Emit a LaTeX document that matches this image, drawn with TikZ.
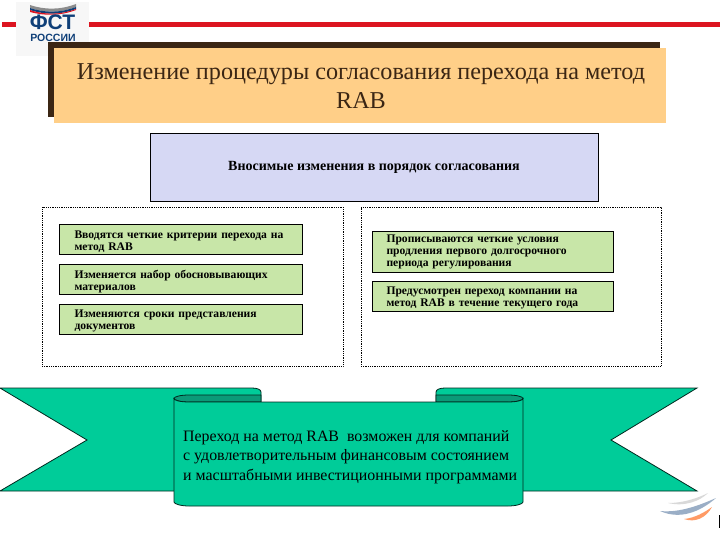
\documentclass[tikz,border=0pt]{standalone}
\usepackage{fontspec}
\setmainfont{Liberation Serif}
\newfontfamily\logofont{Liberation Sans}
\usepackage{xcolor}
\usetikzlibrary{positioning}
\definecolor{titlefill}{HTML}{FFCF88}
\definecolor{titledark}{HTML}{3B2614}
\definecolor{lilacfill}{HTML}{D6D8F4}
\definecolor{greenfill}{HTML}{C8E6A8}
\definecolor{ribbonfill}{HTML}{00CC99}
\definecolor{ribbonfold}{HTML}{0B9A78}
\definecolor{ribbonline}{HTML}{00281E}
\definecolor{flagblue}{HTML}{0F3F78}
\definecolor{flagred}{HTML}{DC1420}

\begin{document}
\begin{tikzpicture}[
  x=1pt, y=-1pt,
  greenbox/.style={draw=black, fill=greenfill, line width=0.8pt, outer sep=0pt, minimum width=243pt, inner sep=0pt,
    text width=212pt, align=left, font=\fontsize{11.6}{12}\selectfont\bfseries},
  lowtext/.style={execute at begin node={\rule{0pt}{12.5pt}}},
  framebox/.style={draw=black, densely dotted, line width=0.8pt},
  ribbon/.style={draw=ribbonline, fill=ribbonfill, line width=0.8pt},
  fold/.style={draw=ribbonline, fill=ribbonfold, line width=0.8pt},
]
\useasboundingbox (0,0) rectangle (720,540);

% header line and logo
\fill[flagred] (2,22) rectangle (720,27);
\fill[black!3] (16,2) rectangle (89,56);
\fill[black!45] (30,5) .. controls (45,10) and (60,10) .. (76,4) -- (76,7) .. controls (60,13) and (45,13) .. (30,8) -- cycle;
\fill[flagblue] (30,8) .. controls (45,13) and (60,13) .. (76,7) -- (76,9) .. controls (60,15) and (45,15) .. (30,10) -- cycle;
\fill[flagred] (30,10) .. controls (45,15) and (60,15) .. (76,9) -- (76,10) .. controls (60,16) and (45,16) .. (30,12) -- cycle;
\node[font=\logofont\fontsize{21}{21}\selectfont\bfseries, text=flagblue, inner sep=0pt] (logotop) at (52.5,22.5) {ФСТ};
\node[font=\logofont\fontsize{10.5}{11}\selectfont\bfseries, text=flagblue, inner sep=0pt] (logobot) at (53,38) {РОССИИ};

% title
\fill[titledark] (48,42) rectangle (660,117);
\fill[titlefill] (54,48) rectangle (666,123);
\node[inner sep=0pt, align=center, text=titledark,
  font=\fontsize{24.2}{29}\selectfont] (title) at (361,86.5) {Изменение процедуры согласования перехода на метод\\RAB};

\node[draw=black, fill=lilacfill, line width=0.8pt, minimum width=448pt, minimum height=68pt, outer sep=0pt,
  font=\fontsize{14}{16}\selectfont\bfseries] (changes) at (374,167) {\raisebox{-1.5pt}{Вносимые изменения в порядок согласования}};

% dotted frames
\node[framebox, minimum width=301pt, minimum height=159pt, outer sep=0pt] (leftframe) at (192.5,286.5) {};
\node[framebox, minimum width=300pt, minimum height=159pt, outer sep=0pt] (rightframe) at (511,286.5) {};

\node[greenbox, lowtext, minimum height=30pt] (crit) at (180.5,239) {Вводятся четкие критерии перехода на\\метод RAB};
\node[greenbox, lowtext, minimum height=30pt, below=10pt of crit] (mater) {Изменяется набор обосновывающих\\материалов};
\node[greenbox, lowtext, minimum height=30pt, below=10pt of mater] (terms) {Изменяются сроки представления\\документов};

\node[greenbox, minimum height=41pt, minimum width=241pt] (cond) at (492.5,251.5) {Прописываются четкие условия\\продления первого долгосрочного\\периода регулирования};
\node[greenbox, lowtext, minimum height=30pt, minimum width=241pt, below=9pt of cond] (year) {Предусмотрен переход компании на\\метод RAB в течение текущего года};

% ribbon
\draw[ribbon] (0,388) -- (252,388) .. controls (257,388) and (261,389.5) .. (261,392) -- (261,491) -- (0,491) -- (87,440) -- cycle;
\draw[ribbon] (697,388) -- (445,388) .. controls (440,388) and (436,389.5) .. (436,392) -- (436,491) -- (697,491) -- (611,440) -- cycle;
\draw[fold] (174,398.5) .. controls (174,396.5) and (181,395) .. (189,395) -- (261,395) -- (261,402) -- (189,402) .. controls (181,402) and (174,400.5) .. (174,398.5) -- cycle;
\draw[fold] (523,398.5) .. controls (523,396.5) and (516,395) .. (508,395) -- (436,395) -- (436,402) -- (508,402) .. controls (516,402) and (523,400.5) .. (523,398.5) -- cycle;
\draw[ribbon] (174,398.5) .. controls (174,400.5) and (181,402) .. (189,402) -- (508,402) .. controls (516,402) and (523,400.5) .. (523,398.5) -- (523,502)
  .. controls (523,504) and (516,506) .. (508,506) -- (189,506) .. controls (181,506) and (174,504) .. (174,502) -- cycle;
\node[anchor=west, inner sep=0pt, align=left, font=\fontsize{15.9}{19.5}\selectfont] (result) at (183,457)
  {Переход на метод RAB\ \ возможен для компаний\\с удовлетворительным финансовым состоянием\\и масштабными инвестиционными программами};

% corner mark
\fill[flagblue!60, opacity=0.7] (660,511) .. controls (680,513) and (700,505) .. (716,498) .. controls (700,512) and (680,520) .. (660,511) -- cycle;
\fill[black!15] (668,503) .. controls (685,503) and (700,497) .. (708,493) .. controls (700,501) and (685,507) .. (668,503) -- cycle;
\fill[orange!70!red, opacity=0.6] (684,519) .. controls (695,518) and (705,512) .. (712,507) .. controls (706,518) and (695,523) .. (684,519) -- cycle;
\fill[black] (718.5,515) rectangle (720,528);
\end{tikzpicture}
\end{document}
